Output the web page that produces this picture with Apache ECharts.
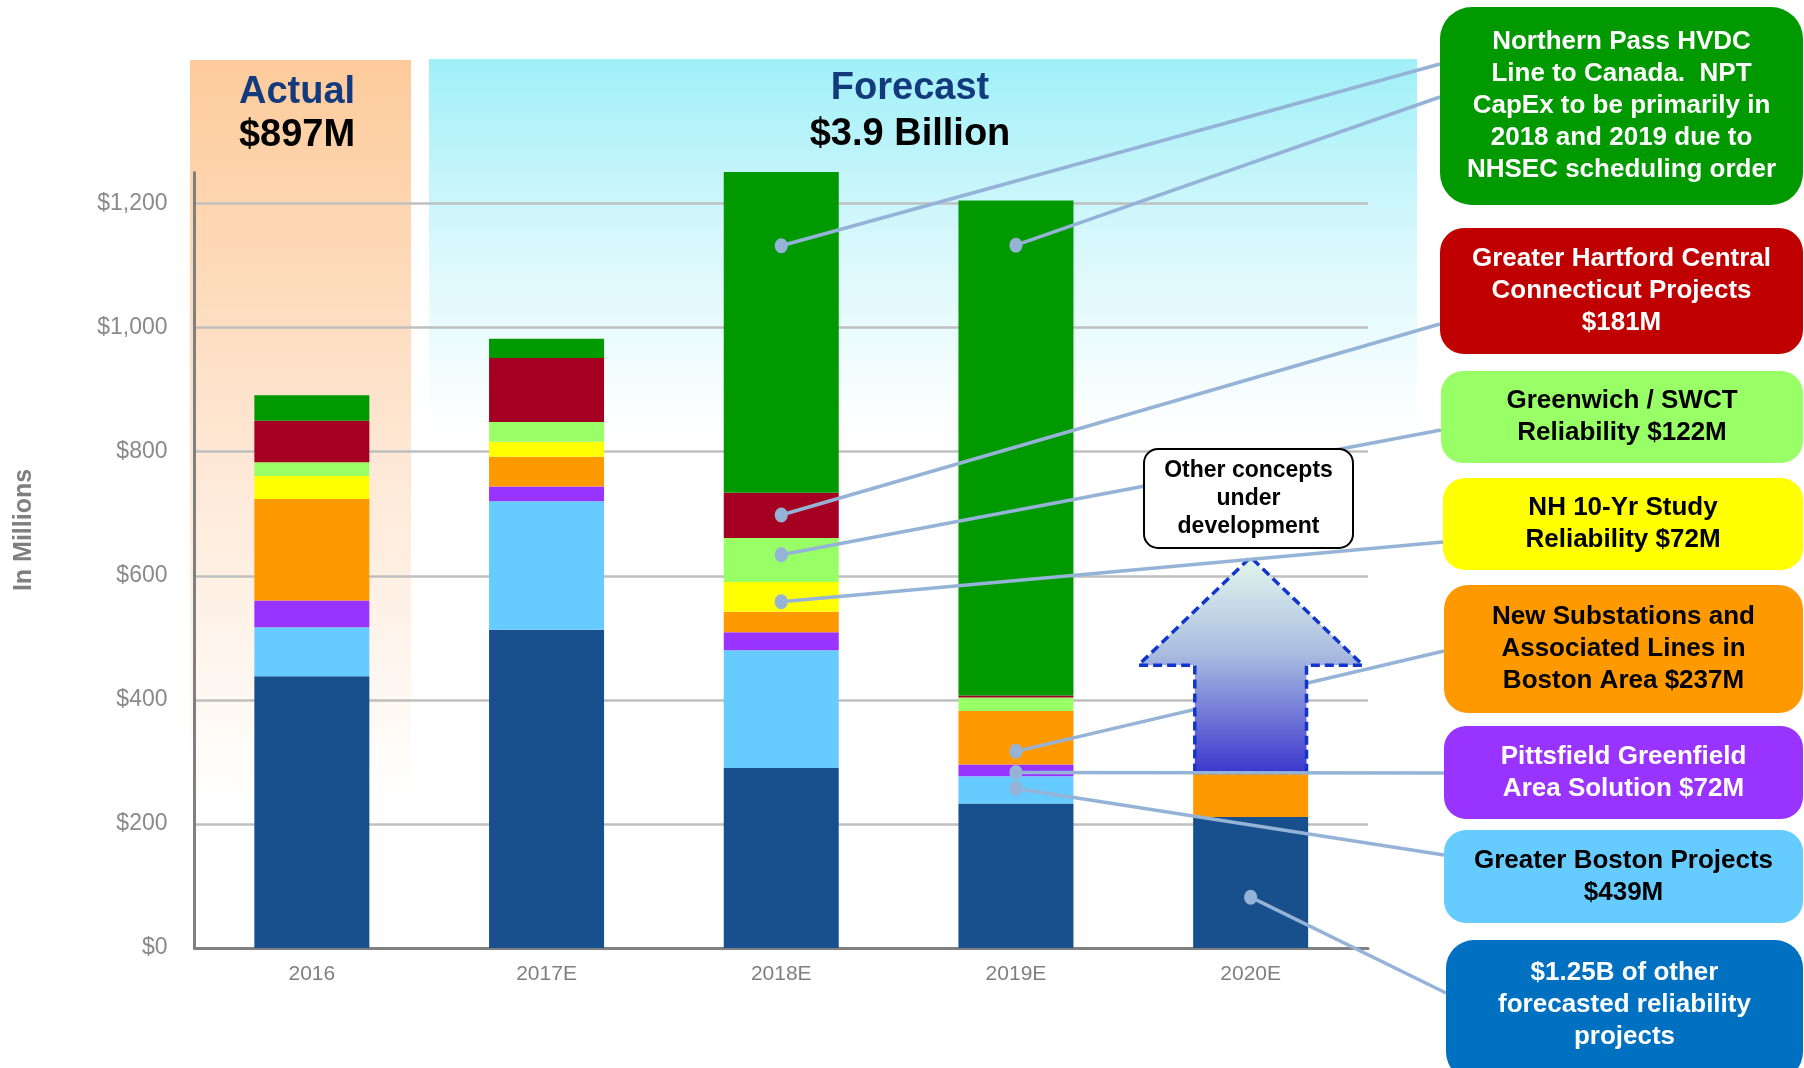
<!DOCTYPE html>
<html><head><meta charset="utf-8">
<script src="https://cdn.jsdelivr.net/npm/echarts@6/dist/echarts.min.js"></script>
<style>html,body{margin:0;padding:0;background:#fff}#c{width:1804px;height:1068px}</style>
</head><body><div id="c"></div>
<script>
// ---- data ----
const categories = ['2016', '2017E', '2018E', '2019E', '2020E'];
const otherReliability = [438, 513, 290, 233, 211];
const greaterBoston    = [79, 207, 190, 44, 0];
const pittsfield       = [43, 24, 29, 19, 0];
const newSubstations   = [164, 48, 33, 86, 72];
const nh10yr           = [37, 24, 48, 0, 0];
const greenwich        = [22, 32, 71, 22, 0];
const hartford         = [67, 103, 73, 3, 0];
const northernPass     = [41, 31, 517, 798, 0];
const yTicks = [0, 200, 400, 600, 800, 1000, 1200];
const yMax = 1250;
// "Other concepts under development" arrow on 2020E (shoulder and tip values)
const arrowCategory = '2020E';
const arrowShoulder = 456;
const arrowTip = 630;
// pointer anchor points (category, value) for each callout
const pointerNorthernPass = [['2018E', 1132], ['2019E', 1133]];
const pointerHartford = [['2018E', 698]];
const pointerGreenwich = [['2018E', 634]];
const pointerNH = [['2018E', 558]];
const pointerSubstations = [['2019E', 317]];
const pointerPittsfield = [['2019E', 283]];
const pointerBoston = [['2019E', 257]];
const pointerOther = [['2020E', 82]];

const seriesDefs = [
  {name: '$1.25B of other forecasted reliability projects', data: otherReliability, color: '#17508C'},
  {name: 'Greater Boston Projects', data: greaterBoston, color: '#66CCFF'},
  {name: 'Pittsfield Greenfield Area Solution', data: pittsfield, color: '#9933FF'},
  {name: 'New Substations and Associated Lines in Boston Area', data: newSubstations, color: '#FF9900'},
  {name: 'NH 10-Yr Study Reliability', data: nh10yr, color: '#FFFF00'},
  {name: 'Greenwich / SWCT Reliability', data: greenwich, color: '#99FF66'},
  {name: 'Greater Hartford Central Connecticut Projects', data: hartford, color: '#A50021'},
  {name: 'Northern Pass HVDC', data: northernPass, color: '#009900'}
];

const chart = echarts.init(document.getElementById('c'), null, {renderer: 'canvas'});
const arrowIdx = categories.indexOf(arrowCategory);
const arrowBase = seriesDefs.reduce((s, d) => s + d.data[arrowIdx], 0);

const series = seriesDefs.map(d => ({
  name: d.name, type: 'bar', stack: 'total', data: d.data, barWidth: '49%',
  itemStyle: {color: d.color}, clip: false, z: 2,
  emphasis: {disabled: true}
}));
series.push({
  type: 'custom', z: 5, clip: false,
  data: [[arrowIdx, arrowBase, arrowShoulder, arrowTip]],
  encode: {x: 0, y: [1, 2, 3]},
  renderItem: function (params, api) {
    const x = api.value(0);
    const b = api.coord([x, api.value(1)]);
    const s = api.coord([x, api.value(2)]);
    const t = api.coord([x, api.value(3)]);
    const cw = api.size([1, 0])[0];
    const hs = cw * 0.238, hh = cw * 0.478, cx = b[0];
    return {
      type: 'polygon',
      shape: {points: [[cx - hs, b[1]], [cx - hs, s[1]], [cx - hh, s[1]], [cx, t[1]], [cx + hh, s[1]], [cx + hs, s[1]], [cx + hs, b[1]]]},
      style: {
        fill: new echarts.graphic.LinearGradient(0, 0, 0, 1, [
          {offset: 0, color: '#E4F9EE'}, {offset: 0.45, color: '#A9BCE0'}, {offset: 1, color: '#3A36CE'}]),
        stroke: '#1236CC', lineWidth: 3.5, lineDash: [9, 5]
      }
    };
  }
});

chart.setOption({
  animation: false,
  grid: {left: 194.5, right: 436, top: 172.6, bottom: 120, containLabel: false},
  xAxis: {
    type: 'category', data: categories,
    axisLine: {lineStyle: {color: '#808080', width: 3}},
    axisTick: {show: false},
    axisLabel: {color: '#7F7F7F', fontSize: 21, fontFamily: 'Liberation Sans', margin: 16}
  },
  yAxis: {
    type: 'value', min: 0, max: yMax, interval: 200,
    axisLine: {show: true, lineStyle: {color: '#808080', width: 3}},
    axisTick: {show: false},
    splitLine: {show: true, showMaxLine: false, lineStyle: {color: '#BFBFBF', width: 2.5}},
    axisLabel: {
      color: '#8A8A8A', fontSize: 23, fontFamily: 'Liberation Sans', margin: 27, showMaxLabel: false,
      formatter: v => yTicks.indexOf(v) >= 0 ? '$' + v.toLocaleString('en-US') : ''
    }
  },
  series: series
});

function px(cat, v) {
  return chart.convertToPixel({xAxisIndex: 0, yAxisIndex: 0}, [categories.indexOf(cat), v]);
}

const LINE = '#95B3D7';
const els = [];
// background bands
els.push({type: 'rect', z: -10, shape: {x: 190, y: 60, width: 221, height: 740},
  style: {fill: new echarts.graphic.LinearGradient(0, 0, 0, 1, [
    {offset: 0, color: '#FDCB9B'}, {offset: 0.55, color: '#FEE8D6'}, {offset: 1, color: 'rgba(255,255,255,1)'}])}});
els.push({type: 'rect', z: -10, shape: {x: 429, y: 59, width: 988, height: 372},
  style: {fill: new echarts.graphic.LinearGradient(0, 0, 0, 1, [
    {offset: 0, color: '#A0F0F8'}, {offset: 0.5, color: '#D8F8FC'}, {offset: 1, color: '#FFFFFF'}])}});
// headings
const headFont = 'Liberation Sans';
els.push({type: 'text', z: 1, x: 297, y: 93,
  style: {text: 'Actual', fontSize: 38, fontWeight: 'bold', fontFamily: headFont, fill: '#133A7C', align: 'center', verticalAlign: 'middle'}});
els.push({type: 'text', z: 1, x: 297, y: 136,
  style: {text: '$897M', fontSize: 38, fontWeight: 'bold', fontFamily: headFont, fill: '#000', align: 'center', verticalAlign: 'middle'}});
els.push({type: 'text', z: 1, x: 910, y: 89,
  style: {text: 'Forecast', fontSize: 38, fontWeight: 'bold', fontFamily: headFont, fill: '#133A7C', align: 'center', verticalAlign: 'middle'}});
els.push({type: 'text', z: 1, x: 910, y: 135,
  style: {text: '$3.9 Billion', fontSize: 38, fontWeight: 'bold', fontFamily: headFont, fill: '#000', align: 'center', verticalAlign: 'middle'}});
// y axis name
els.push({type: 'text', z: 1, x: 24, y: 530, rotation: Math.PI / 2,
  style: {text: 'In Millions', fontSize: 25, fontWeight: 'bold', fontFamily: headFont, fill: '#7F7F7F', align: 'center', verticalAlign: 'middle'}});

// callouts
const callouts = [
  {text: 'Northern Pass HVDC\nLine to Canada.  NPT\nCapEx to be primarily in\n2018 and 2019 due to\nNHSEC scheduling order', fill: '#009900', color: '#fff',
   box: [1440, 7, 363, 198], r: 32, pts: pointerNorthernPass, ends: [[1440, 64], [1440, 97]]},
  {text: 'Greater Hartford Central\nConnecticut Projects\n$181M', fill: '#C00000', color: '#fff',
   box: [1440, 228, 363, 126], r: 24, pts: pointerHartford, ends: [[1440, 324]]},
  {text: 'Greenwich / SWCT\nReliability $122M', fill: '#99FF66', color: '#000',
   box: [1441, 371, 362, 92], r: 22, pts: pointerGreenwich, ends: [[1441, 430]]},
  {text: 'NH 10-Yr Study\nReliability $72M', fill: '#FFFF00', color: '#000',
   box: [1443, 478, 360, 92], r: 22, pts: pointerNH, ends: [[1443, 542]]},
  {text: 'New Substations and\nAssociated Lines in\nBoston Area $237M', fill: '#FF9900', color: '#000',
   box: [1444, 585, 359, 128], r: 24, pts: pointerSubstations, ends: [[1444, 651]], lineZ: 3},
  {text: 'Pittsfield Greenfield\nArea Solution $72M', fill: '#9933FF', color: '#fff',
   box: [1444, 726, 359, 93], r: 22, pts: pointerPittsfield, ends: [[1444, 773]]},
  {text: 'Greater Boston Projects\n$439M', fill: '#66CCFF', color: '#000',
   box: [1444, 830, 359, 93], r: 22, pts: pointerBoston, ends: [[1444, 855]]},
  {text: '$1.25B of other\nforecasted reliability\nprojects', fill: '#0070C0', color: '#fff',
   box: [1446, 940, 357, 140], r: 28, pts: pointerOther, ends: [[1446, 993]], textY: 1005}
];
callouts.forEach(c => {
  c.pts.forEach((p, i) => {
    const a = px(p[0], p[1]);
    const e = c.ends[i];
    els.push({type: 'line', z: c.lineZ || 10, shape: {x1: a[0], y1: a[1], x2: e[0], y2: e[1]},
      style: {stroke: LINE, lineWidth: 3.5}});
    els.push({type: 'ellipse', z: 11, shape: {cx: a[0], cy: a[1], rx: 6.5, ry: 7.5}, style: {fill: LINE}});
  });
  const [bx, by, bw, bh] = c.box;
  els.push({type: 'rect', z: 12, shape: {x: bx, y: by, width: bw, height: bh, r: c.r}, style: {fill: c.fill}});
  els.push({type: 'text', z: 13, x: bx + bw / 2, y: c.textY || (by + bh / 2),
    style: {text: c.text, fontSize: 26, fontWeight: 'bold', fontFamily: 'Liberation Sans', fill: c.color,
      align: 'center', verticalAlign: 'middle', lineHeight: 32}});
});
// "Other concepts under development" label box
els.push({type: 'rect', z: 20, shape: {x: 1144, y: 449, width: 209, height: 99, r: 14},
  style: {fill: '#fff', stroke: '#000', lineWidth: 2}});
els.push({type: 'text', z: 21, x: 1248.5, y: 498.5,
  style: {text: 'Other concepts\nunder\ndevelopment', fontSize: 23, fontWeight: 'bold', fontFamily: 'Liberation Sans', fill: '#000',
    align: 'center', verticalAlign: 'middle', lineHeight: 28}});

chart.setOption({graphic: {elements: els}});
</script>
</body></html>
